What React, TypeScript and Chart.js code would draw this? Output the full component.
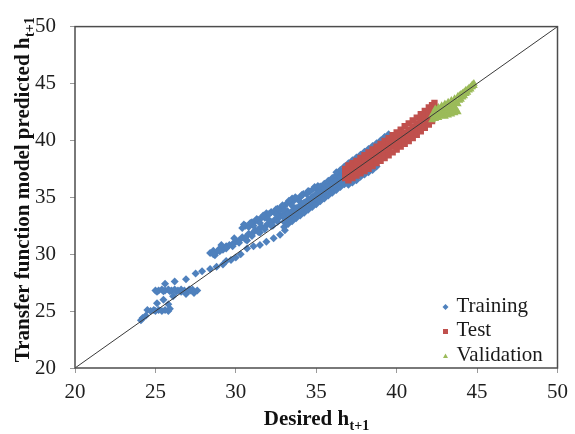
import { useEffect, useRef } from 'react';
import { Chart, registerables } from 'chart.js';

Chart.register(...registerables);

type Pt = [number, number];

// Axis range and tick step (both axes share them)
const axisMin = 20;
const axisMax = 50;
const axisStep = 5;

const seriesNames = ['Training', 'Test', 'Validation'];
const seriesColors = ['#4F81BD', '#C0504D', '#9BBB59'];

// [desired, predicted]
const trainingPoints: Pt[] = [
  // low end
  [24.1, 24.2], [24.2, 24.4], [24.4, 24.6], [24.5, 25.1], [24.7, 25.0], [24.9, 25.1], [25.0, 25.0],
  [25.2, 25.1], [25.4, 25.0], [25.6, 25.1], [25.8, 25.0], [25.9, 25.2], [25.8, 25.6], [25.1, 25.7],
  [25.5, 26.0], [26.1, 26.3], [26.6, 26.9],
  [25.0, 26.8], [25.2, 26.8], [25.4, 26.9], [25.6, 26.8], [25.8, 26.9], [26.0, 26.8], [26.2, 26.9],
  [26.4, 26.8], [26.6, 26.7], [26.8, 26.8], [27.0, 26.7], [27.2, 26.8], [27.4, 26.6], [27.6, 26.8],
  [26.9, 26.5], [27.3, 26.9], [25.1, 26.7], [25.5, 26.75], [25.9, 26.75], [26.3, 26.7], [27.1, 26.9],
  [25.6, 27.4], [26.2, 27.6], [26.9, 27.8], [27.5, 28.3], [27.9, 28.5], [28.4, 28.7], [28.8, 28.9], [29.2, 29.1],
  // strand just under the diagonal
  [29.4, 29.4], [29.7, 29.5], [30.0, 29.7], [30.3, 30.0], [30.7, 30.5], [31.1, 30.7], [31.5, 30.8],
  [31.9, 31.1], [32.35, 31.4], [32.75, 31.7], [33.05, 32.1],
  // middle strand
  [28.4, 30.1], [28.6, 30.3], [28.8, 30.2], [29.0, 30.5], [29.2, 30.4], [29.4, 30.7], [29.6, 30.8],
  [29.8, 30.9], [30.0, 31.1], [30.2, 31.2], [30.4, 31.5], [30.6, 31.5], [30.8, 31.8], [31.0, 31.8],
  [31.2, 32.1], [31.4, 32.2], [31.6, 32.4], [31.8, 32.4], [32.0, 32.7], [32.2, 32.8], [32.4, 33.0],
  [32.6, 33.1], [32.8, 33.4], [33.0, 33.5], [33.2, 33.8],
  [29.1, 30.8], [29.9, 31.4], [30.7, 31.2], [31.5, 31.9], [32.3, 32.5], [28.7, 29.9],
  [28.6, 30.0], [29.0, 30.25], [29.4, 30.5], [29.8, 30.7], [30.2, 31.0], [30.6, 31.3], [31.0, 31.6],
  [31.4, 31.95], [31.8, 32.2], [32.2, 32.5], [32.6, 32.85], [33.0, 33.2],
  // upper strand
  [30.4, 32.3], [30.6, 32.5], [30.8, 32.4], [31.0, 32.8], [31.2, 32.9], [31.4, 33.0], [31.6, 33.2],
  [31.8, 33.2], [32.0, 33.5], [32.2, 33.7], [32.4, 33.7], [32.6, 34.0], [32.8, 34.1], [33.0, 34.2],
  [33.2, 34.5], [33.4, 34.6], [33.6, 34.7], [33.8, 34.9], [34.0, 35.0], [34.2, 35.3], [34.4, 35.3],
  [34.6, 35.5], [34.8, 35.7], [35.0, 35.8], [31.1, 32.5], [31.9, 33.6], [32.7, 33.8], [33.5, 34.9],
  [30.5, 32.6], [30.9, 32.75], [31.3, 33.1], [31.7, 33.4], [32.1, 33.55], [32.5, 33.95], [32.9, 34.3],
  [33.3, 34.7], [33.7, 35.0], [34.1, 35.2], [34.5, 35.55], [34.9, 35.9], [35.1, 36.0],
  [31.5, 32.75], [32.0, 33.1], [32.5, 33.5], [33.0, 33.85], [33.5, 34.25], [34.0, 34.6],
  // main band
  [33.0, 32.4], [33.0, 32.85], [33.0, 33.3], [33.25, 32.65], [33.25, 33.1], [33.25, 33.55],
  [33.5, 32.9], [33.5, 33.35], [33.5, 33.8], [33.75, 33.15], [33.75, 33.6], [33.75, 34.05],
  [34.0, 33.4], [34.0, 33.85], [34.0, 34.3], [34.25, 33.65], [34.25, 34.1], [34.25, 34.55],
  [34.5, 33.9], [34.5, 34.35], [34.5, 34.8], [34.75, 34.15], [34.75, 34.6], [34.75, 35.05],
  [35.0, 34.4], [35.0, 34.85], [35.0, 35.3], [35.25, 34.65], [35.25, 35.1], [35.25, 35.55], [35.25, 35.95],
  [35.5, 34.9], [35.5, 35.35], [35.5, 35.8], [35.5, 36.2], [35.75, 35.15], [35.75, 35.6], [35.75, 36.05], [35.75, 36.45],
  [36.0, 35.4], [36.0, 35.85], [36.0, 36.3], [36.0, 36.7], [36.25, 35.65], [36.25, 36.1], [36.25, 36.55], [36.25, 36.95],
  [36.5, 35.9], [36.5, 36.35], [36.5, 36.8], [36.5, 37.2], [36.75, 36.15], [36.75, 36.6], [36.75, 37.05], [36.75, 37.45],
  [37.0, 36.4], [37.0, 36.85], [37.0, 37.3], [37.0, 37.75], [37.25, 36.65], [37.25, 37.1], [37.25, 37.55], [37.25, 38.0],
  [37.5, 36.9], [37.5, 37.35], [37.5, 37.8], [37.5, 38.25], [37.75, 37.15], [37.75, 37.6], [37.75, 38.05], [37.75, 38.5],
  [38.0, 37.4], [38.0, 37.85], [38.0, 38.3], [38.0, 38.75], [38.25, 37.65], [38.25, 38.1], [38.25, 38.55], [38.25, 39.0],
  [38.5, 38.35], [38.5, 38.8], [38.5, 39.25], [38.75, 38.6], [38.75, 39.05], [38.75, 39.5],
  [39.0, 38.85], [39.0, 39.3], [39.0, 39.75], [39.25, 39.55], [39.25, 40.0], [39.25, 40.3],
  [39.5, 39.8], [39.5, 40.3], [39.5, 40.55],
  // edges of the main band around the test range
  [36.25, 37.2], [36.5, 37.4], [36.75, 37.7], [37.0, 38.0], [37.25, 38.25], [37.5, 38.5], [37.75, 38.75],
  [38.0, 39.0], [38.25, 39.25], [38.5, 39.5], [38.75, 39.75], [39.0, 40.0], [39.25, 40.25],
  [37.0, 36.1], [37.25, 36.3], [37.5, 36.5], [37.75, 36.8], [38.0, 37.0], [38.25, 37.2], [38.5, 37.4], [38.75, 37.7],
];

const testPoints: Pt[] = [
  [36.8, 36.7], [36.8, 37.1], [36.8, 37.5],
  [37.0, 36.5], [37.0, 36.95], [37.0, 37.4], [37.0, 37.8],
  [37.25, 36.7], [37.25, 37.15], [37.25, 37.6], [37.25, 38.0],
  [37.5, 36.9], [37.5, 37.35], [37.5, 37.8], [37.5, 38.2],
  [37.75, 37.1], [37.75, 37.55], [37.75, 38.0], [37.75, 38.45],
  [38.0, 37.3], [38.0, 37.75], [38.0, 38.2], [38.0, 38.7],
  [38.25, 37.5], [38.25, 37.95], [38.25, 38.45], [38.25, 38.95],
  [38.5, 37.75], [38.5, 38.2], [38.5, 38.7], [38.5, 39.2],
  [38.75, 38.0], [38.75, 38.45], [38.75, 38.95], [38.75, 39.45],
  [39.0, 38.2], [39.0, 38.7], [39.0, 39.2], [39.0, 39.7],
  [39.25, 38.45], [39.25, 38.95], [39.25, 39.45], [39.25, 39.95],
  [39.5, 38.7], [39.5, 39.2], [39.5, 39.7], [39.5, 40.2],
  [39.75, 38.95], [39.75, 39.45], [39.75, 39.95], [39.75, 40.45],
  [40.0, 39.2], [40.0, 39.7], [40.0, 40.2], [40.0, 40.7],
  [40.25, 39.45], [40.25, 39.95], [40.25, 40.45], [40.25, 40.95],
  [40.5, 39.7], [40.5, 40.2], [40.5, 40.7], [40.5, 41.25],
  [40.75, 39.95], [40.75, 40.45], [40.75, 40.95], [40.75, 41.5],
  [41.0, 40.2], [41.0, 40.7], [41.0, 41.2], [41.0, 41.75],
  [41.25, 40.5], [41.25, 41.0], [41.25, 41.5], [41.25, 42.0],
  [41.5, 40.8], [41.5, 41.3], [41.5, 41.8], [41.5, 42.3],
  [41.75, 41.1], [41.75, 41.6], [41.75, 42.1], [41.75, 42.6],
  [42.0, 41.4], [42.0, 41.9], [42.0, 42.4], [42.0, 42.9],
  [42.2, 41.7], [42.2, 42.2], [42.2, 42.7], [42.2, 43.1],
  [42.35, 42.4], [42.35, 42.9], [42.35, 43.3],
];

const validationPoints: Pt[] = [
  [42.2, 41.8], [42.2, 42.2], [42.3, 42.0], [42.3, 42.45],
  [42.4, 41.9], [42.4, 42.35], [42.4, 42.75], [42.5, 42.15], [42.5, 42.6],
  [42.6, 42.0], [42.6, 42.5], [42.6, 42.9], [42.7, 42.3], [42.7, 42.75],
  [42.8, 42.15], [42.8, 42.6], [42.8, 43.05], [42.9, 42.35], [42.9, 42.85],
  [43.0, 42.1], [43.0, 42.55], [43.0, 43.2], [43.1, 42.35], [43.1, 42.95],
  [43.2, 42.2], [43.2, 42.7], [43.2, 43.35], [43.3, 42.45], [43.3, 43.05],
  [43.4, 42.3], [43.4, 42.8], [43.4, 43.5], [43.5, 42.55], [43.5, 43.2],
  [43.6, 42.4], [43.6, 42.95], [43.6, 43.65], [43.7, 42.7], [43.7, 43.4],
  [43.8, 42.5], [43.8, 43.2], [43.8, 43.85], [43.9, 43.5], [43.9, 43.95],
  [44.0, 43.6], [44.0, 44.05], [44.1, 43.8], [44.1, 44.15],
  [44.2, 43.9], [44.2, 44.25], [44.3, 44.1], [44.3, 44.4],
  [44.4, 44.2], [44.4, 44.45], [44.5, 44.4], [44.5, 44.6],
  [44.6, 44.5], [44.6, 44.7], [44.7, 44.7], [44.7, 44.9],
  [44.8, 44.8], [44.8, 45.0],
];

const serif = "'Liberation Serif', 'Times New Roman', serif";
const toXY = (pts: Pt[]) => pts.map(([x, y]) => ({ x, y }));

function drawMarker(ctx: CanvasRenderingContext2D, kind: number, x: number, y: number, r: number) {
  ctx.beginPath();
  if (kind === 0) {
    ctx.moveTo(x, y - r);
    ctx.lineTo(x + r, y);
    ctx.lineTo(x, y + r);
    ctx.lineTo(x - r, y);
  } else if (kind === 1) {
    ctx.rect(x - r, y - r, 2 * r, 2 * r);
  } else {
    ctx.moveTo(x, y - r);
    ctx.lineTo(x + r, y + r * 0.8);
    ctx.lineTo(x - r, y + r * 0.8);
  }
  ctx.closePath();
  ctx.fill();
}

function drawTitle(ctx: CanvasRenderingContext2D, main: string, sub: string) {
  ctx.font = `bold 21px ${serif}`;
  const wMain = ctx.measureText(main).width;
  ctx.font = `bold 14px ${serif}`;
  const wSub = ctx.measureText(sub).width;
  const start = -(wMain + wSub) / 2;
  ctx.textAlign = 'left';
  ctx.textBaseline = 'alphabetic';
  ctx.font = `bold 21px ${serif}`;
  ctx.fillText(main, start, 0);
  ctx.font = `bold 14px ${serif}`;
  ctx.fillText(sub, start + wMain + 0.5, 5);
}

const framePlugin = {
  id: 'frameAndLabels',
  afterDraw(chart: Chart) {
    const { ctx, chartArea } = chart;
    const { left, right, top, bottom } = chartArea;
    ctx.save();
    // plot frame
    ctx.strokeStyle = '#4d4d4d';
    ctx.lineWidth = 1.5;
    ctx.strokeRect(left, top, right - left, bottom - top);

    // legend
    ctx.font = `21px ${serif}`;
    ctx.textAlign = 'left';
    ctx.textBaseline = 'middle';
    seriesNames.forEach((name, i) => {
      const y = bottom - 62 + i * 24.5;
      ctx.fillStyle = seriesColors[i];
      drawMarker(ctx, i, right - 112, y + 1, i === 0 ? 3 : 2.5);
      ctx.fillStyle = '#1a1a1a';
      ctx.fillText(name, right - 101, y);
    });

    // axis titles
    ctx.fillStyle = '#111';
    ctx.save();
    ctx.translate((left + right) / 2, 425);
    drawTitle(ctx, 'Desired h', 't+1');
    ctx.restore();

    ctx.save();
    ctx.translate(29, 190);
    ctx.rotate(-Math.PI / 2);
    drawTitle(ctx, 'Transfer function model predicted h', 't+1');
    ctx.restore();

    ctx.restore();
  },
};

export default function App() {
  const canvasRef = useRef<HTMLCanvasElement | null>(null);

  useEffect(() => {
    const canvas = canvasRef.current;
    if (!canvas) return;
    const tickCommon = {
      color: '#1e1e1e',
      font: { family: serif, size: 21 },
      stepSize: axisStep,
    };
    const chart = new Chart(canvas, {
      type: 'scatter',
      data: {
        datasets: [
          {
            label: 'Training',
            data: toXY(trainingPoints),
            pointStyle: 'rectRot',
            pointRadius: 4,
            backgroundColor: seriesColors[0],
            borderWidth: 0,
            order: 4,
          },
          {
            label: 'Test',
            data: toXY(testPoints),
            pointStyle: 'rect',
            pointRadius: 4.5,
            backgroundColor: seriesColors[1],
            borderWidth: 0,
            order: 3,
          },
          {
            label: 'Validation',
            data: toXY(validationPoints),
            pointStyle: 'triangle',
            pointRadius: 4.5,
            backgroundColor: seriesColors[2],
            borderWidth: 0,
            order: 2,
          },
          {
            label: 'y = x',
            data: [
              { x: axisMin, y: axisMin },
              { x: axisMax, y: axisMax },
            ],
            showLine: true,
            pointRadius: 0,
            borderColor: '#3a3a3a',
            borderWidth: 1,
            order: 1,
          },
        ],
      },
      options: {
        responsive: false,
        animation: false,
        events: [],
        layout: { padding: { top: 18, right: 10, left: 0, bottom: 0 } },
        plugins: {
          legend: { display: false },
          tooltip: { enabled: false },
        },
        scales: {
          x: {
            type: 'linear',
            min: axisMin,
            max: axisMax,
            ticks: { ...tickCommon, padding: 7, maxRotation: 0 },
            grid: { drawOnChartArea: false, drawTicks: true, tickLength: 5, color: '#9a9a9a' },
            border: { display: false },
            afterFit(scale: any) {
              scale.height = 66;
            },
          },
          y: {
            type: 'linear',
            min: axisMin,
            max: axisMax,
            ticks: { ...tickCommon, padding: 14 },
            grid: { drawOnChartArea: false, drawTicks: true, tickLength: 5, color: '#9a9a9a' },
            border: { display: false },
            afterFit(scale: any) {
              scale.width = 75;
            },
          },
        },
      },
      plugins: [framePlugin],
    });
    return () => chart.destroy();
  }, []);

  return (
    <div style={{ position: 'fixed', left: 0, top: 0, width: 575, height: 434, background: '#fff' }}>
      <canvas ref={canvasRef} width={575} height={434} style={{ display: 'block' }} />
    </div>
  );
}
